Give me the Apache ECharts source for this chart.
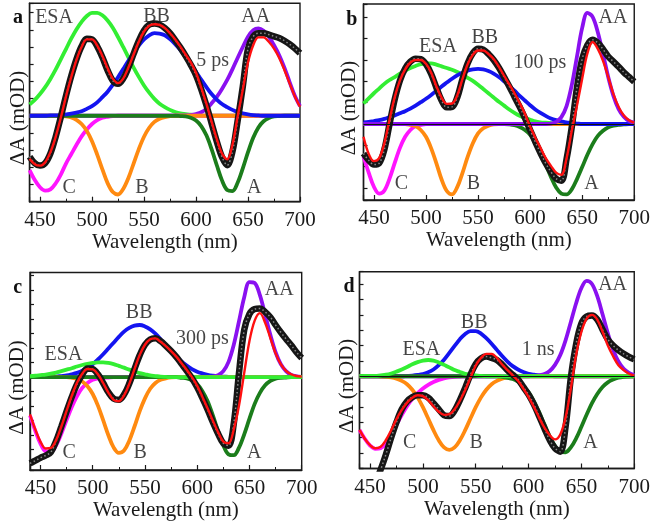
<!DOCTYPE html>
<html><head><meta charset="utf-8">
<script src="https://cdn.jsdelivr.net/npm/echarts@6/dist/echarts.min.js"></script>
<style>html,body{margin:0;padding:0;background:#fff}#c{width:653px;height:527px}</style>
</head><body><div id="c"></div><script>
// Wavelength grid (nm)
const wl = [440,445,450,455,460,465,470,475,480,485,
 490,495,500,505,510,515,520,525,530,535,
 540,545,550,555,560,565,570,575,580,585,
 590,595,600,605,610,615,620,625,630,635,
 640,645,650,655,660,665,670,675,680,685,
 690,695,700];

// ---------- panel a (5 ps) ----------
const a_esa = [.33,.46,.63,.83,1.07,1.34,1.64,1.94,2.24,2.51,
 2.73,2.90,2.99,2.99,2.92,2.77,2.56,2.29,2.00,1.70,
 1.40,1.13,.88,.67,.49,.35,.25,.17,.11,.07,
 .05,.03,.02,.01,0,0,0,0,0,0,
 0,0,0,0,0,0,0,0,0,0,
 0,0,0];
const a_bb = [0,0,0,0,.01,.01,.02,.04,.06,.09,
 .13,.20,.28,.39,.54,.70,.90,1.12,1.36,1.60,
 1.83,2.04,2.22,2.34,2.40,2.39,2.34,2.23,2.08,1.91,
 1.71,1.50,1.28,1.05,.83,.63,.47,.34,.25,.17,
 .11,.07,.04,.02,.01,0,0,0,0,0,
 0,0,0];
const a_aa = [0,0,0,0,0,0,0,0,0,0,
 0,0,0,0,0,0,0,0,0,0,
 0,0,0,0,0,0,0,0,0,0,
 .01,.02,.05,.10,.20,.36,.55,.78,1.04,1.35,
 1.68,2.00,2.30,2.49,2.54,2.47,2.30,2.05,1.76,1.40,
 .98,.58,.28];
const a_c = [-1.58,-1.87,-2.08,-2.18,-2.14,-1.97,-1.71,-1.39,-1.12,-.85,
 -.60,-.40,-.24,-.13,-.06,-.03,-.01,0,0,0,
 0,0,0,0,0,0,0,0,0,0,
 0,0,0,0,0,0,0,0,0,0,
 0,0,0,0,0,0,0,0,0,0,
 0,0,0];
const a_b = [0,0,0,0,0,0,-.01,-.02,-.05,-.12,
 -.24,-.44,-.74,-1.13,-1.56,-1.96,-2.22,-2.29,-2.13,-1.81,
 -1.39,-.97,-.61,-.35,-.18,-.09,-.04,-.01,0,0,
 0,0,0,0,0,0,0,0,0,0,
 0,0,0,0,0,0,0,0,0,0,
 0,0,0];
const a_a = [0,0,0,0,0,0,0,0,0,0,
 0,0,0,0,0,0,0,0,0,0,
 0,0,0,0,0,0,0,0,0,-.01,
 -.02,-.06,-.14,-.30,-.57,-.97,-1.44,-1.88,-2.16,-2.19,
 -1.95,-1.53,-1.06,-.64,-.34,-.16,-.07,-.02,-.01,0,
 0,0,0];
const a_fit = [-1.25,-1.41,-1.45,-1.35,-1.06,-.62,-.06,.56,1.12,1.62,
 2.00,2.22,2.22,2.04,1.74,1.38,1.08,.95,1.08,1.40,
 1.78,2.15,2.45,2.62,2.66,2.64,2.55,2.40,2.22,2.01,
 1.78,1.55,1.25,.82,.35,-.17,-.68,-1.10,-1.27,-.85,
 -.03,.76,1.55,2.05,2.28,2.28,2.15,1.95,1.68,1.33,
 .94,.57,.26];
const a_dat = [-1.19,-1.38,-1.45,-1.38,-1.10,-.62,-.04,.58,1.15,1.64,
 2.02,2.24,2.22,2.02,1.70,1.32,1.02,.93,1.08,1.40,
 1.80,2.18,2.48,2.65,2.68,2.65,2.55,2.40,2.20,1.98,
 1.74,1.48,1.18,.77,.30,-.22,-.75,-1.20,-1.44,-1.05,
 -.15,.85,1.95,2.30,2.40,2.40,2.36,2.31,2.26,2.18,
 2.08,1.96,1.82];

// ---------- panel b (100 ps) ----------
const b_esa = [.48,.60,.72,.83,.94,1.03,1.10,1.18,1.25,1.31,
 1.36,1.40,1.42,1.42,1.39,1.35,1.31,1.27,1.22,1.16,
 1.08,1.01,.92,.82,.72,.62,.52,.43,.34,.26,
 .19,.14,.10,.06,.04,.03,.02,.01,0,0,
 0,0,0,0,0,0,0,0,0,0,
 0,0,0];
const b_bb = [.04,.05,.07,.09,.12,.16,.20,.25,.30,.36,
 .43,.51,.59,.68,.78,.88,.97,1.06,1.14,1.20,
 1.25,1.28,1.29,1.28,1.24,1.18,1.10,1.00,.89,.78,
 .66,.55,.44,.34,.26,.19,.13,.09,.06,.04,
 .02,.01,0,0,0,0,0,0,0,0,
 0,0,0];
const b_aa = [0,0,0,0,0,0,0,0,0,0,
 0,0,0,0,0,0,0,0,0,0,
 0,0,0,0,0,0,0,0,0,0,
 0,0,0,0,0,0,.01,.05,.16,.42,
 .91,1.58,2.25,2.60,2.51,2.15,1.64,1.10,.66,.35,
 .17,.07,.03];
const b_c = [-.76,-1.14,-1.47,-1.63,-1.56,-1.28,-.91,-.56,-.30,-.14,
 -.05,-.02,0,0,0,0,0,0,0,0,
 0,0,0,0,0,0,0,0,0,0,
 0,0,0,0,0,0,0,0,0,0,
 0,0,0,0,0,0,0,0,0,0,
 0,0,0];
const b_b = [0,0,0,0,0,0,0,0,0,-.02,
 -.05,-.14,-.30,-.57,-.92,-1.30,-1.57,-1.65,-1.48,-1.15,
 -.77,-.45,-.22,-.10,-.04,-.01,0,0,0,0,
 0,0,0,0,0,0,0,0,0,0,
 0,0,0,0,0,0,0,0,0,0,
 0,0,0];
const b_a = [0,0,0,0,0,0,0,0,0,0,
 0,0,0,0,0,0,0,0,0,0,
 0,0,0,0,0,0,0,0,-.01,-.03,
 -.07,-.14,-.25,-.43,-.66,-.95,-1.24,-1.49,-1.63,-1.65,
 -1.53,-1.29,-1.01,-.72,-.47,-.28,-.16,-.08,-.04,-.02,
 -.01,0,0];
const b_fit = [-.30,-.70,-.87,-.80,-.45,.10,.63,1.02,1.28,1.44,
 1.50,1.50,1.41,1.20,.88,.62,.47,.48,.67,1.05,
 1.40,1.62,1.72,1.72,1.64,1.52,1.34,1.13,.93,.72,
 .49,.24,-.06,-.32,-.56,-.80,-.98,-1.14,-1.19,-.80,
 -.16,.43,1.06,1.65,1.92,1.76,1.48,1.10,.70,.40,
 .20,.09,.03];
const b_dat = [-.69,-.85,-.95,-.92,-.60,0,.58,1.02,1.30,1.46,
 1.53,1.52,1.40,1.17,.85,.55,.39,.40,.62,1.05,
 1.42,1.66,1.76,1.74,1.64,1.50,1.32,1.10,.88,.64,
 .40,.14,-.14,-.42,-.68,-.92,-1.12,-1.28,-1.33,-.82,
 -.07,.85,1.52,1.85,1.97,1.90,1.75,1.58,1.46,1.34,
 1.21,1.10,.99];

// ---------- panel c (300 ps) ----------
const c_esa = [.04,.05,.07,.09,.12,.16,.21,.26,.31,.37,
 .42,.46,.49,.51,.51,.49,.45,.39,.33,.26,
 .20,.14,.10,.06,.04,.02,.01,0,0,0,
 0,0,0,0,0,0,0,0,0,0,
 0,0,0,0,0,0,0,0,0,0,
 0,0,0];
const c_bb = [0,0,0,.01,.01,.02,.04,.06,.10,.15,
 .22,.33,.45,.61,.79,.99,1.19,1.39,1.57,1.70,
 1.78,1.80,1.75,1.65,1.50,1.31,1.11,.91,.72,.54,
 .40,.28,.19,.13,.08,.05,.03,.02,.01,0,
 0,0,0,0,0,0,0,0,0,0,
 0,0,0];
const c_aa = [0,0,0,0,0,0,0,0,0,0,
 0,0,0,0,0,0,0,0,0,0,
 0,0,0,0,0,0,0,0,0,0,
 0,0,0,0,0,.02,.07,.21,.53,1.12,
 1.93,2.76,3.28,3.25,2.83,2.16,1.46,.86,.45,.21,
 .08,.03,.01];
const c_c = [-1.32,-1.84,-2.29,-2.56,-2.57,-2.35,-1.95,-1.48,-1.03,-.65,
 -.37,-.20,-.09,-.04,-.02,-.01,0,0,0,0,
 0,0,0,0,0,0,0,0,0,0,
 0,0,0,0,0,0,0,0,0,0,
 0,0,0,0,0,0,0,0,0,0,
 0,0,0];
const c_b = [0,0,0,0,0,0,0,0,-.02,-.06,
 -.15,-.31,-.58,-.98,-1.48,-2.00,-2.42,-2.61,-2.53,-2.19,
 -1.70,-1.17,-.73,-.40,-.20,-.09,-.04,-.01,0,0,
 0,0,0,0,0,0,0,0,0,0,
 0,0,0,0,0,0,0,0,0,0,
 0,0,0];
const c_a = [0,0,0,0,0,0,0,0,0,0,
 0,0,0,0,0,0,0,0,0,0,
 0,0,0,0,0,0,0,0,0,-.02,
 -.04,-.11,-.24,-.48,-.83,-1.32,-1.86,-2.35,-2.66,-2.69,
 -2.43,-1.97,-1.43,-.92,-.54,-.28,-.13,-.05,-.02,-.01,
 0,0,0];
const c_fit = [-1.28,-1.79,-2.22,-2.46,-2.44,-2.17,-1.70,-1.16,-.64,-.19,
 .12,.28,.27,.10,-.20,-.53,-.78,-.83,-.63,-.23,
 .28,.77,1.12,1.31,1.34,1.22,1.07,.90,.71,.48,
 .25,0,-.30,-.68,-1.08,-1.50,-1.90,-2.22,-2.28,-1.80,
 -.98,.15,1.25,1.95,2.21,1.88,1.35,.82,.45,.22,
 .10,.04,.02];
const c_dat = [-2.97,-2.88,-2.78,-2.70,-2.58,-2.20,-1.70,-1.18,-.68,-.24,
 .09,.30,.28,.10,-.20,-.52,-.74,-.78,-.60,-.22,
 .28,.76,1.12,1.30,1.34,1.24,1.08,.90,.70,.46,
 .22,-.04,-.35,-.72,-1.12,-1.55,-1.95,-2.28,-2.36,-1.60,
 .15,1.63,2.18,2.35,2.37,2.25,2.07,1.80,1.55,1.32,
 1.10,.86,.66];

// ---------- panel d (1 ns) ----------
const d_esa = [0,.01,.01,.01,.03,.05,.09,.15,.22,.30,
 .39,.46,.51,.53,.51,.45,.37,.29,.20,.14,
 .08,.05,.03,.01,0,0,0,0,0,0,
 0,0,0,0,0,0,0,0,0,0,
 0,0,0,0,0,0,0,0,0,0,
 0,0,0];
const d_bb = [0,0,0,0,0,0,0,0,0,.01,
 .02,.04,.07,.13,.22,.36,.54,.76,.99,1.21,
 1.38,1.47,1.47,1.39,1.24,1.06,.86,.66,.48,.33,
 .22,.14,.08,.05,.03,.01,.01,0,0,0,
 0,0,0,0,0,0,0,0,0,0,
 0,0,0];
const d_aa = [0,0,0,0,0,0,0,0,0,0,
 0,0,0,0,0,0,0,0,0,0,
 0,0,0,0,0,0,0,0,0,0,
 0,0,0,.01,.03,.07,.17,.37,.69,1.17,
 1.77,2.38,2.88,3.11,3.01,2.61,2.02,1.40,.87,.48,
 .24,.11,.04];
const d_c = [-1.75,-2.04,-2.26,-2.37,-2.35,-2.19,-1.88,-1.58,-1.27,-.98,
 -.74,-.55,-.40,-.28,-.19,-.12,-.07,-.04,-.02,-.01,
 0,0,0,0,0,0,0,0,0,0,
 0,0,0,0,0,0,0,0,0,0,
 0,0,0,0,0,0,0,0,0,0,
 0,0,0];
const d_b = [0,0,0,0,-.01,-.02,-.04,-.08,-.15,-.26,
 -.44,-.69,-1.01,-1.38,-1.76,-2.09,-2.32,-2.40,-2.32,-2.09,
 -1.76,-1.38,-1.01,-.69,-.44,-.26,-.15,-.08,-.04,-.02,
 -.01,0,0,0,0,0,0,0,0,0,
 0,0,0,0,0,0,0,0,0,0,
 0,0,0];
const d_a = [0,0,0,0,0,0,0,0,0,0,
 0,0,0,0,0,0,0,0,0,0,
 0,0,0,0,0,0,0,-.02,-.05,-.09,
 -.18,-.32,-.52,-.81,-1.17,-1.57,-1.96,-2.27,-2.46,-2.48,
 -2.32,-2.03,-1.65,-1.25,-.88,-.58,-.35,-.20,-.11,-.05,
 -.02,-.01,0];
const d_fit = [-1.75,-2.04,-2.25,-2.35,-2.30,-2.08,-1.76,-1.40,-1.10,-.86,
 -.70,-.62,-.65,-.78,-.98,-1.16,-1.26,-1.24,-1.08,-.80,
 -.45,-.05,.35,.60,.73,.73,.60,.38,.20,.03,
 -.15,-.40,-.68,-1.00,-1.35,-1.68,-1.92,-2.06,-1.90,-1.35,
 -.40,.70,1.45,1.88,2.00,1.85,1.45,1.00,.65,.36,
 .20,.08,.02];
const d_dat = [null,null,-4.1,-3.5,-3.05,-2.55,-2.00,-1.50,-1.08,-.82,
 -.68,-.62,-.62,-.70,-.88,-1.08,-1.27,-1.30,-1.12,-.78,
 -.38,.05,.40,.58,.64,.60,.53,.38,.20,.05,
 -.10,-.35,-.60,-.92,-1.30,-1.70,-2.08,-2.35,-2.46,-1.65,
 -.05,1.05,1.72,1.95,1.98,1.85,1.52,1.20,1.00,.85,
 .73,.63,.55];

// annotation texts: [text, wavelength, value]
const a_txt = [['ESA',463.5,2.85],['BB',562,2.89],['AA',657.5,2.89],['5 ps',616,1.60],['C',478,-2.09],['B',548,-2.09],['A',656,-2.09]];
const b_txt = [['ESA',511.5,1.81],['BB',556.5,2.01],['AA',679.5,2.48],['100 ps',609.5,1.44],['C',476.5,-1.41],['B',545.5,-1.41],['A',659,-1.41]];
const c_txt = [['ESA',472,0.77],['BB',544.5,2.21],['AA',678.5,3.01],['300 ps',605,1.31],['C',477.5,-2.59],['B',545.5,-2.59],['A',654.5,-2.59]];
const d_txt = [['ESA',498.5,0.88],['BB',548.5,1.75],['AA',679.5,2.98],['1 ns',609,0.88],['C',487.5,-2.16],['B',550.5,-2.16],['A',658.5,-2.16]];

const FONT = 'Liberation Serif';
const COL = {esa:'#33ee33', bb:'#1414f0', aa:'#8a10f0', c:'#ff14ff', b:'#ff8a10', a:'#1b7d1b', fit:'#ff1010'};

const panels = [
 {grid:{left:29.6, top:3.3, width:270.4, height:198.4}, y:[-2.50,3.27], split:12,
  comps:[['esa',a_esa],['aa',a_aa],['c',a_c],['b',a_b],['a',a_a],['bb',a_bb]], fit:a_fit, dat:a_dat, txt:a_txt, zero:false},
 {grid:{left:363.5, top:4, width:270.8, height:196}, y:[-1.78,2.81], split:9,
  comps:[['esa',b_esa],['c',b_c],['b',b_b],['a',b_a],['bb',b_bb],['aa',b_aa]], fit:b_fit, dat:b_dat, txt:b_txt, zero:true},
 {grid:{left:30, top:272.5, width:271.7, height:197.5}, y:[-3.20,3.61], split:14,
  comps:[['bb',c_bb],['aa',c_aa],['c',c_c],['b',c_b],['a',c_a],['esa',c_esa]], fit:c_fit, dat:c_dat, txt:c_txt, zero:false},
 {grid:{left:359.5, top:271.7, width:277.5, height:196.8}, y:[-3.01,3.41], split:13,
  comps:[['bb',d_bb],['aa',d_aa],['c',d_c],['b',d_b],['a',d_a],['esa',d_esa]], fit:d_fit, dat:d_dat, txt:d_txt, zero:true}
];

const grids=[], xAxes=[], yAxes=[], series=[];
panels.forEach((p,i)=>{
 grids.push(Object.assign({show:true, borderColor:'#1a1a1a', borderWidth:1.4, backgroundColor:'#fff'}, p.grid));
 xAxes.push({type:'value', gridIndex:i, min:440, max:700, splitNumber:5, minInterval:50, maxInterval:50,
  name:'Wavelength (nm)', nameLocation:'middle', nameGap:30,
  nameTextStyle:{fontFamily:FONT, fontSize:21, color:'#1a1a1a'},
  axisLine:{show:true, onZero:false, lineStyle:{color:'#1a1a1a', width:1.4}},
  axisTick:{show:true, inside:true, length:5, lineStyle:{color:'#1a1a1a', width:1.2}},
  minorTick:{show:true, splitNumber:2, length:3, lineStyle:{color:'#1a1a1a', width:1}},
  axisLabel:{show:true, margin:8, fontFamily:FONT, fontSize:21, color:'#1a1a1a',
   formatter:v=> (v%50===0 ? String(v) : '')},
  splitLine:{show:false}});
 yAxes.push({type:'value', gridIndex:i, min:p.y[0], max:p.y[1], splitNumber:p.split, minInterval:0.5, maxInterval:0.5,
  axisLine:{show:true, onZero:false, lineStyle:{color:'#1a1a1a', width:1.4}},
  axisTick:{show:true, inside:true, length:4, lineStyle:{color:'#1a1a1a', width:1.2}},
  axisLabel:{show:false}, splitLine:{show:false}});
 const mk = arr => wl.map((x,k)=>[x, arr[k]]);
 p.comps.forEach((c,k)=>{
  series.push({type:'line', xAxisIndex:i, yAxisIndex:i, data:mk(c[1]), smooth:0.35, showSymbol:false, silent:true,
   lineStyle:{color:COL[c[0]], width:3.8}, itemStyle:{color:COL[c[0]]}, z:2, clip:true});
 });
 const dat = {type:'line', xAxisIndex:i, yAxisIndex:i, data:mk(p.dat), smooth:0.35, showSymbol:false, silent:true,
  lineStyle:{color:'#161616', width:6.5}, z:3, clip:true};
 if (p.zero) dat.markLine = {silent:true, symbol:['none','none'], label:{show:false}, animation:false,
  lineStyle:{color:'#111', width:1.1, type:'solid'}, data:[{yAxis:0}]};
 series.push(dat);
 series.push({type:'line', xAxisIndex:i, yAxisIndex:i, data:mk(p.dat), smooth:0.35, showSymbol:false, silent:true,
  lineStyle:{color:'#8a8a8a', width:1.5, type:[1.5,2.5]}, z:3, clip:true});
 series.push({type:'line', xAxisIndex:i, yAxisIndex:i, data:mk(p.fit), smooth:0.35, showSymbol:false, silent:true,
  lineStyle:{color:COL.fit, width:2.4}, z:4, clip:true});
 series.push({type:'scatter', xAxisIndex:i, yAxisIndex:i, symbolSize:1, silent:true, z:6,
  itemStyle:{color:'rgba(0,0,0,0)'},
  data:p.txt.map(t=>({value:[t[1],t[2]], name:t[0]})),
  label:{show:true, position:'inside', formatter:'{b}', fontFamily:FONT, fontSize:20, color:'#151515'}});
});

const letters = [['a',18,18],['b',351.7,20],['c',17.7,288.3],['d',349,286.7]];
const ynames = [[18.3,118],[349,108],[17.5,387.5],[347.5,386]];
const graphic = [];
letters.forEach(l=>graphic.push({type:'text', x:l[1], y:l[2], z:10,
 style:{text:l[0], font:'bold 20px "Liberation Serif"', fill:'#111', textAlign:'center', textVerticalAlign:'middle'}}));
ynames.forEach(n=>graphic.push({type:'text', x:n[0], y:n[1], rotation:Math.PI/2, z:10,
 style:{text:'ΔA (mOD)', font:'21px "Liberation Serif"', fill:'#1a1a1a', textAlign:'center', textVerticalAlign:'middle'}}));

const chart = echarts.init(document.getElementById('c'), null, {renderer:'canvas'});
chart.setOption({animation:false, backgroundColor:'#fff', textStyle:{fontFamily:FONT},
 grid:grids, xAxis:xAxes, yAxis:yAxes, series:series, graphic:graphic});
</script></body></html>
